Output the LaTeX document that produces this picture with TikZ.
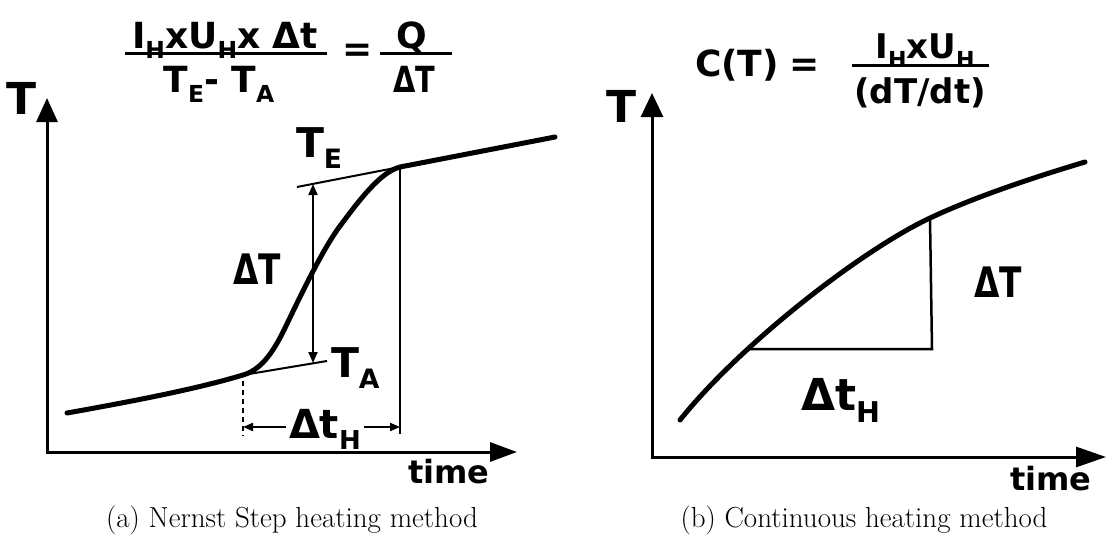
\documentclass[tikz,border=0pt]{standalone}
\usepackage{fontspec}
\usepackage{graphicx}
\newfontfamily\lblfont{DejaVu Sans}
\usetikzlibrary{arrows.meta}
\newcommand\lsub[1]{\raisebox{-0.28em}{\scalebox{0.65}{#1}}}
\newcommand\fsz[1]{\fontsize{#1}{#1}\selectfont}
\begin{document}
\begin{tikzpicture}[x=1pt,y=-1pt,
  lbl/.style={inner sep=0pt, outer sep=0pt, font=\lblfont\bfseries\fsz{#1}},
  axisline/.style={line width=3pt},
  curveline/.style={line width=5pt, line cap=round, line join=round},
  guide/.style={line width=2pt},
  barline/.style={line width=3pt},
  dimarrow/.style={line width=2pt, -{Triangle[length=10pt,width=8pt]}},
  captext/.style={inner sep=0pt, font=\fsz{29}}]
\useasboundingbox (0,0) rectangle (1109,538);

% ---------------- left panel ----------------
\coordinate (o1) at (47,452);
\coordinate (y1) at (47,98);
\coordinate (x1) at (517,452);
\draw[axisline, {Triangle[length=24pt,width=21pt]}-{Triangle[length=27pt,width=19pt]}] (y1) -- (o1) -- (x1);

\coordinate (cs1) at (67,413);
\coordinate (jA) at (243,375);
\coordinate (cm1) at (285,328);
\coordinate (cm2) at (340,226);
\coordinate (jE) at (400,167);
\coordinate (ce1) at (555,137);
\draw[curveline] (cs1) .. controls (140,400) and (200,388) .. (jA)
  .. controls (260,370) and (272,355) .. (cm1)
  .. controls (298,301) and (322,250) .. (cm2)
  .. controls (358,202) and (380,172) .. (jE) -- (ce1);

\coordinate (tEend) at (297,187);
\coordinate (tAend) at (327,361);
\draw[guide] (tEend) -- (jE);
\draw[guide] (jA) -- (tAend);

\coordinate (dTtop) at (313,184);
\coordinate (dTbot) at (313,363);
\draw[guide, {Triangle[length=11pt,width=9pt]}-{Triangle[length=11pt,width=9pt]}] (dTtop) -- (dTbot);

\coordinate (vEbot) at (400,434);
\draw[line width=2.5pt] (jE) -- (vEbot);
\coordinate (vAtop) at (243,381);
\coordinate (vAbot) at (243,436);
\draw[guide, dash pattern=on 5pt off 4pt] (vAtop) -- (vAbot);

\node[lbl=40, anchor=base west] (dtH1) at (289,438) {Δt\lsub{H}};
\coordinate (dl) at (243,427);
\coordinate (dr) at (400,427);
\draw[dimarrow] ([xshift=-3pt]dl -| dtH1.west) -- (dl);
\draw[dimarrow] ([xshift=3pt]dr -| dtH1.east) -- (dr);

\node[lbl=44, anchor=base] (T1) at (22,114) {T};
\node[lbl=41, anchor=base west] (TE) at (296,157) {T\lsub{E}};
\node[lbl=41, anchor=base west] (TA) at (331,377) {T\lsub{A}};
\node[lbl=42] (dT1) at (257,269) {\scalebox{0.78}[1]{ΔT}};
\node[lbl=32, anchor=base west] (time1) at (408,483) {time};

% formula left
\node[lbl=36, anchor=base] (num1) at (225,48) {I\lsub{H}xU\lsub{H}x Δt};
\coordinate (b1l) at (125,53);
\coordinate (b1r) at (327,53);
\draw[barline] (b1l) -- (b1r);
\node[lbl=36, anchor=base] (den1) at (219,92) {T\lsub{E}- T\lsub{A}};
\node[lbl=36] (eq1) at (358,53) {=};
\node[lbl=36, anchor=base] (Q1) at (412,48) {Q};
\coordinate (b2l) at (380,53);
\coordinate (b2r) at (452,53);
\draw[barline] (b2l) -- (b2r);
\node[lbl=36, anchor=base] (dTden) at (414,92) {\scalebox{0.8}[1]{ΔT}};

\node[captext, anchor=base] (capa) at (292,527) {(a) Nernst Step heating method};

% ---------------- right panel ----------------
\coordinate (o2) at (652,457);
\coordinate (y2) at (652,93);
\coordinate (x2) at (1106,457);
\draw[axisline, {Triangle[length=24pt,width=22pt]}-{Triangle[length=30pt,width=20pt]}] (y2) -- (o2) -- (x2);

\coordinate (cs2) at (680,420);
\coordinate (p2) at (930,218);
\coordinate (ce2) at (1085,162);
\draw[curveline] (cs2) .. controls (740,345) and (860,251) .. (p2)
  .. controls (980,194.5) and (1045,174) .. (ce2);
\coordinate (p1) at (747,349);
\coordinate (pc) at (932,349);
\draw[line width=2.5pt] (p1) -- (pc) -- (p2);

\node[lbl=44, anchor=base] (T2) at (622,122) {T};
\node[lbl=42] (dT2) at (998,282) {\scalebox{0.78}[1]{ΔT}};
\node[lbl=44, anchor=base west] (dtH2) at (801,410) {Δt\lsub{H}};
\node[lbl=32, anchor=base west] (time2) at (1010,490) {time};

\node[lbl=36, anchor=base west] (CT) at (695,76) {C(T)};
\node[lbl=36] (eq2) at (805,68) {=};
\node[lbl=34, anchor=base] (num2) at (925,58) {I\lsub{H}xU\lsub{H}};
\coordinate (b3l) at (852,65);
\coordinate (b3r) at (989,65);
\draw[barline] (b3l) -- (b3r);
\node[lbl=34, anchor=base] (den2) at (920,103) {(dT/dt)};

\node[captext, anchor=base] (capb) at (864,527) {(b) Continuous heating method};
\end{tikzpicture}
\end{document}
